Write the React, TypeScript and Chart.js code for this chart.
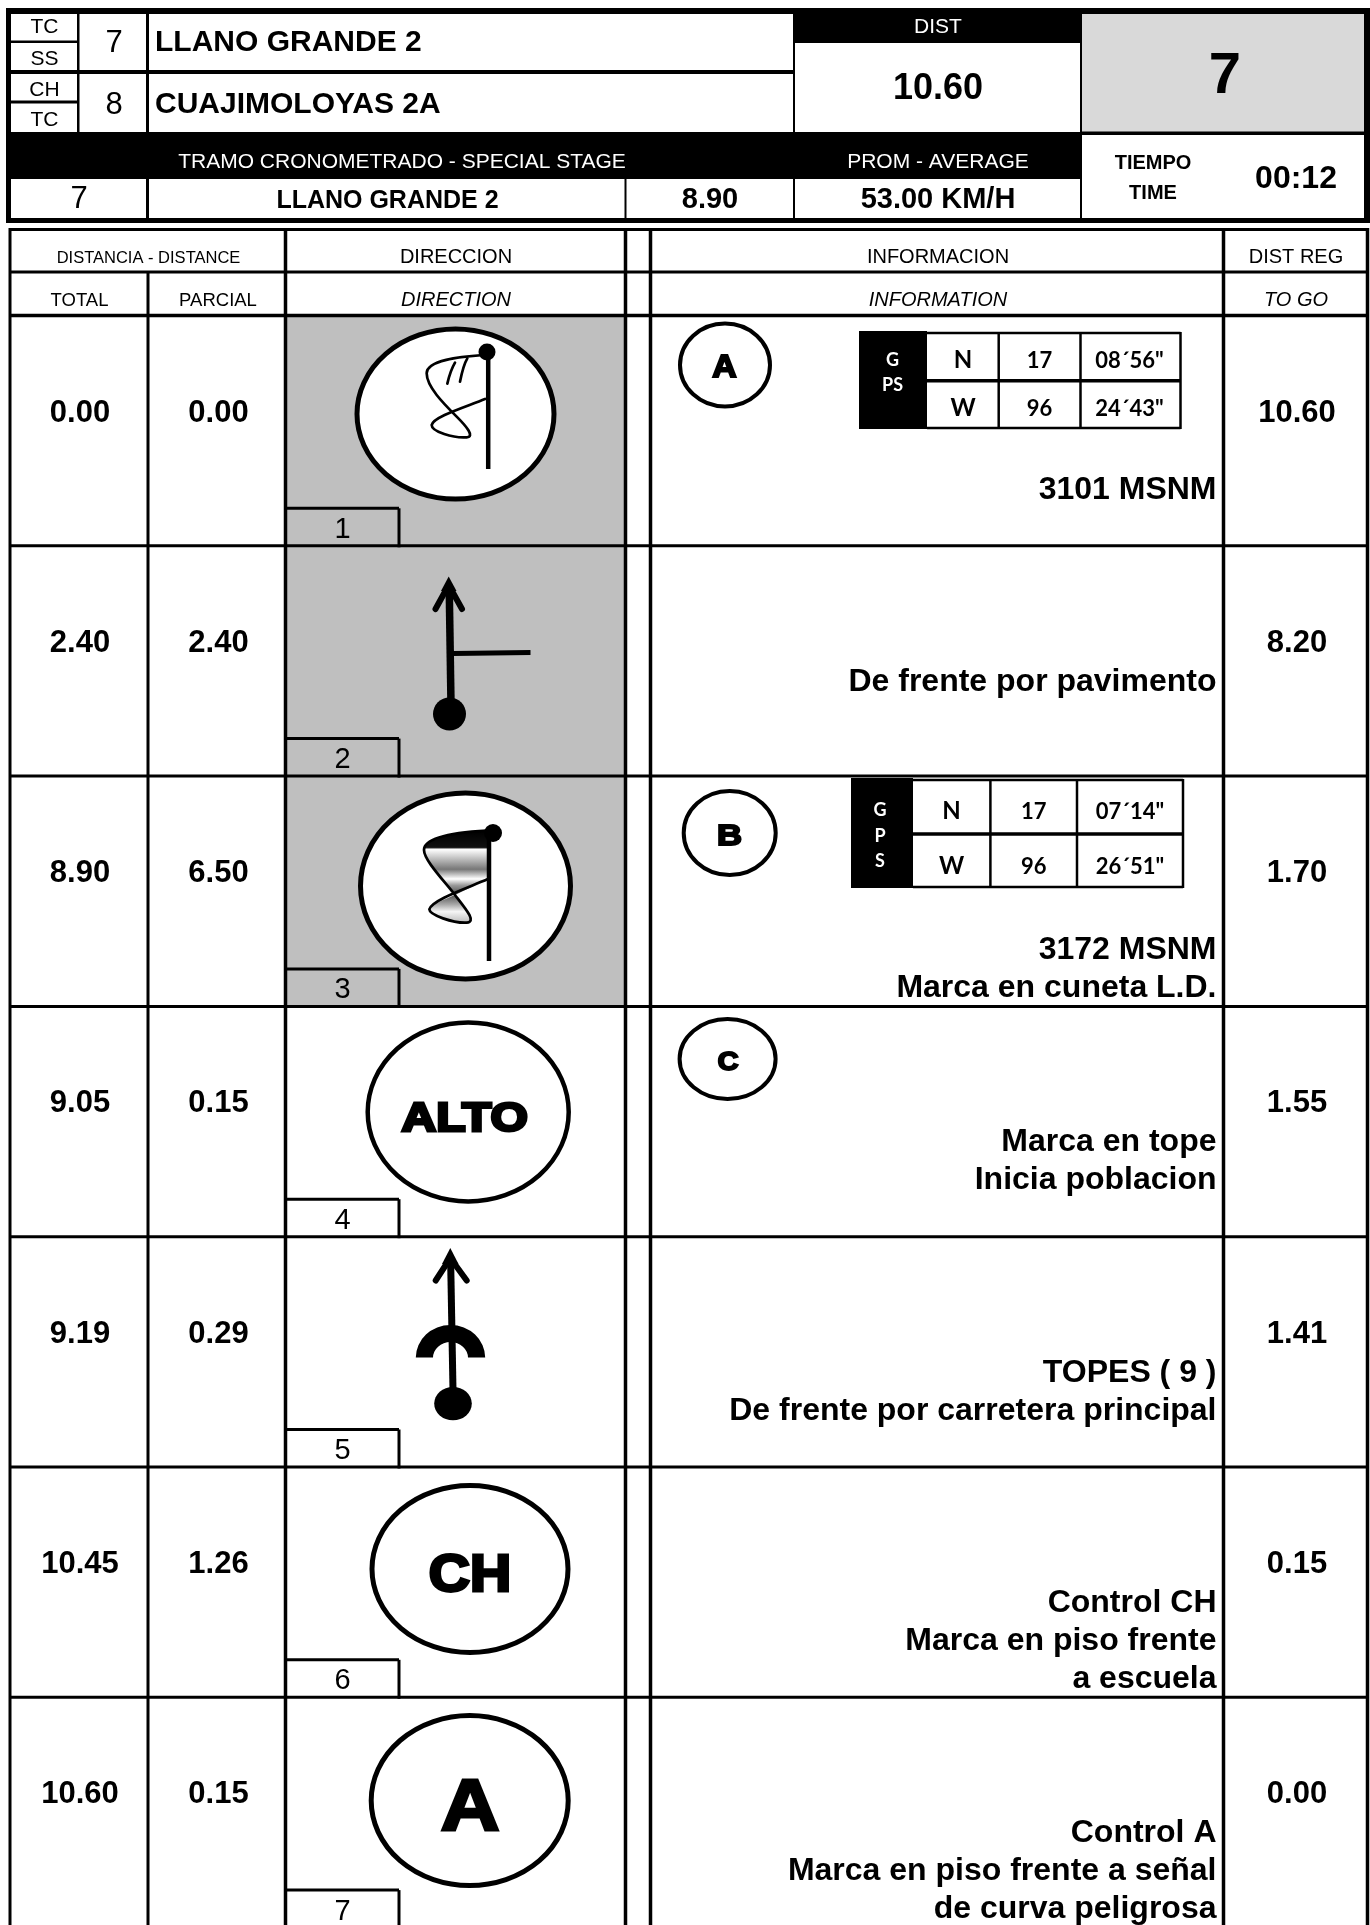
import React, { useEffect, useRef } from "react";
import { Chart, registerables } from "chart.js";

Chart.register(...registerables);

const PAGE_W = 1370;
const PAGE_H = 1925;

// ---- data ----
const stepNumbers = [1, 2, 3, 4, 5, 6, 7];
const totals = [0.0, 2.4, 8.9, 9.05, 9.19, 10.45, 10.6];
const partials = [0.0, 2.4, 6.5, 0.15, 0.29, 1.26, 0.15];
const toGo = [10.6, 8.2, 1.7, 1.55, 1.41, 0.15, 0.0];
const shadedSteps = [1, 2, 3];
const infoLines = [
  ["", "3101 MSNM", ""],
  ["De frente por pavimento", "", ""],
  ["", "3172 MSNM", "Marca en cuneta L.D."],
  ["Marca en tope", "Inicia poblacion", ""],
  ["TOPES ( 9 )", "De frente por carretera principal", ""],
  ["Control CH", "Marca en piso frente", "a escuela"],
  ["Control A", "Marca en piso frente a señal", "de curva peligrosa"],
];
const gpsA = [["N", "17", "08´56\""], ["W", "96", "24´43\""]];
const gpsB = [["N", "17", "07´14\""], ["W", "96", "26´51\""]];

// ---- layout of the table ----
const ROW_TOP = 315.5;
const ROW_H = 230.3;
const colTotal = 80;
const colPartial = 218.5;
const colToGo = 1297;
const rowBaseline = 106;
const verticals = [10, 148, 285.5, 625.5, 650.5, 1223.5, 1367.5];
const AR = "'Liberation Sans', Arial, sans-serif";

type Opt = { font: string; align?: CanvasTextAlign; color?: string };

function App() {
  const ref = useRef<HTMLCanvasElement | null>(null);
  useEffect(() => {
    if (!ref.current) return;

    const distPoints = (vals: number[], x: number) =>
      vals.map((v, i) => ({ x, y: ROW_TOP + i * ROW_H + rowBaseline, v }));

    const roadbook = {
      id: "roadbook",
      beforeDatasetsDraw(chart: any) {
        const c: CanvasRenderingContext2D = chart.ctx;
        const sx = (v: number) => chart.scales.x.getPixelForValue(v);
        const sy = (v: number) => chart.scales.y.getPixelForValue(v);

        const rect = (x0: number, y0: number, x1: number, y1: number, col: string) => {
          c.fillStyle = col;
          c.fillRect(sx(x0), sy(y0), sx(x1) - sx(x0), sy(y1) - sy(y0));
        };
        const line = (x0: number, y0: number, x1: number, y1: number, w: number, cap: CanvasLineCap = "butt") => {
          c.strokeStyle = "#000";
          c.lineWidth = w;
          c.lineCap = cap;
          c.beginPath();
          c.moveTo(sx(x0), sy(y0));
          c.lineTo(sx(x1), sy(y1));
          c.stroke();
        };
        const text = (s: string, x: number, y: number, o: Opt) => {
          c.font = o.font;
          c.textAlign = o.align || "center";
          c.textBaseline = "alphabetic";
          c.fillStyle = o.color || "#000";
          c.fillText(s, sx(x), sy(y));
        };
        const ellipse = (cx: number, cy: number, rx: number, ry: number, w: number) => {
          c.beginPath();
          c.ellipse(sx(cx), sy(cy), rx, ry, 0, 0, Math.PI * 2);
          c.fillStyle = "#fff";
          c.fill();
          c.strokeStyle = "#000";
          c.lineWidth = w;
          c.stroke();
        };
        const dot = (cx: number, cy: number, rx: number, ry: number) => {
          c.beginPath();
          c.ellipse(sx(cx), sy(cy), rx, ry, 0, 0, Math.PI * 2);
          c.fillStyle = "#000";
          c.fill();
        };
        // heavy display lettering fitted inside a box
        const heavy = (s: string, x0: number, yTop: number, x1: number, yBot: number, thick: number) => {
          c.save();
          c.font = `bold 100px ${AR}`;
          c.textAlign = "left";
          c.textBaseline = "alphabetic";
          const m = c.measureText(s);
          const inkW = m.actualBoundingBoxRight + m.actualBoundingBoxLeft;
          const inkH = m.actualBoundingBoxAscent;
          const t = thick;
          const kx = (x1 - x0 - t) / inkW;
          const ky = (yBot - yTop - t) / inkH;
          c.translate(sx(x0) + t / 2 + m.actualBoundingBoxLeft * kx, sy(yBot) - t / 2);
          c.scale(kx, ky);
          c.fillStyle = "#000";
          c.fillText(s, 0, 0);
          c.strokeStyle = "#000";
          c.lineWidth = t / Math.min(kx, ky);
          c.lineJoin = "miter";
          c.strokeText(s, 0, 0);
          c.restore();
        };
        const curve = (ox: number, oy: number, pts: number[][]) => {
          const X = (v: number) => sx(ox + v / 3);
          const Y = (v: number) => sy(oy + v / 3);
          c.moveTo(X(pts[0][0]), Y(pts[0][1]));
          pts.slice(1).forEach((p) => c.bezierCurveTo(X(p[0]), Y(p[1]), X(p[2]), Y(p[3]), X(p[4]), Y(p[5])));
        };

        // page
        rect(0, 0, PAGE_W, PAGE_H, "#fff");

        // ---------- top block ----------
        rect(6, 8, 1370, 223, "#000");
        const whiteCells = [
          [11, 14, 77, 40.5], [11, 43, 77, 70], [11, 74, 77, 100.5], [11, 103.5, 77, 132],
          [79.5, 14, 146, 70], [79.5, 74, 146, 132],
          [149, 14, 793, 70], [149, 74, 793, 132],
          [795, 43, 1080, 132],
          [1082, 135, 1364, 218],
          [11, 179, 146, 218], [149, 179, 624.5, 218], [626.5, 179, 793, 218], [795, 179, 1080, 218],
        ];
        whiteCells.forEach((r) => rect(r[0], r[1], r[2], r[3], "#fff"));
        rect(1082, 14, 1364, 131.5, "#D9D9D9");

        const f21 = `21px ${AR}`;
        text("TC", 44.5, 32.5, { font: f21 });
        text("SS", 44.5, 64.5, { font: f21 });
        text("CH", 44.5, 95.5, { font: f21 });
        text("TC", 44.5, 125.5, { font: f21 });
        text("7", 114, 52, { font: `31px ${AR}` });
        text("8", 114, 113.5, { font: `31px ${AR}` });
        text("LLANO GRANDE 2", 155, 51, { font: `bold 30px ${AR}`, align: "left" });
        text("CUAJIMOLOYAS 2A", 155, 113, { font: `bold 30px ${AR}`, align: "left" });
        text("DIST", 938, 33, { font: f21, color: "#fff" });
        text("10.60", 938, 99, { font: `bold 36px ${AR}` });
        text("7", 1225, 93, { font: `bold 58px ${AR}` });
        text("TRAMO CRONOMETRADO - SPECIAL STAGE", 402, 168, { font: f21, color: "#fff" });
        text("PROM - AVERAGE", 938, 168, { font: f21, color: "#fff" });
        text("TIEMPO", 1153, 168.5, { font: `bold 20px ${AR}` });
        text("TIME", 1153, 199, { font: `bold 20px ${AR}` });
        text("00:12", 1296, 188, { font: `bold 32px ${AR}` });
        text("7", 79, 208, { font: `31px ${AR}` });
        text("LLANO GRANDE 2", 387.5, 208, { font: `bold 25px ${AR}` });
        text("8.90", 710, 208, { font: `bold 29px ${AR}` });
        text("53.00 KM/H", 938, 208, { font: `bold 29px ${AR}` });

        // ---------- shaded direction cells ----------
        shadedSteps.forEach((n) => {
          const t = ROW_TOP + (n - 1) * ROW_H;
          rect(287, t, 624, t + ROW_H, "#BFBFBF");
        });

        // ---------- grid ----------
        line(9, 229.5, 1369, 229.5, 3);
        line(9, 272, 1369, 272, 3);
        line(9, 315.5, 1369, 315.5, 3.5);
        stepNumbers.forEach((n, i) => {
          if (i > 0) line(9, ROW_TOP + i * ROW_H, 1369, ROW_TOP + i * ROW_H, 3);
        });
        verticals.forEach((x) => {
          if (x === 148) line(x, 272, x, PAGE_H, 3);
          else line(x, 228, x, PAGE_H, x === 10 ? 3 : 3.5);
        });

        // column titles
        text("DISTANCIA - DISTANCE", 148.5, 262.5, { font: `16.5px ${AR}` });
        text("DIRECCION", 456, 262.5, { font: `20px ${AR}` });
        text("INFORMACION", 938, 262.5, { font: `20px ${AR}` });
        text("DIST REG", 1296, 262.5, { font: `20px ${AR}` });
        text("TOTAL", 79.5, 305.5, { font: `18.5px ${AR}` });
        text("PARCIAL", 218, 305.5, { font: `18.5px ${AR}` });
        text("DIRECTION", 456, 305.5, { font: `italic 20px ${AR}` });
        text("INFORMATION", 938, 305.5, { font: `italic 20px ${AR}` });
        text("TO GO", 1296, 305.5, { font: `italic 20px ${AR}` });

        // step number tabs
        stepNumbers.forEach((n, i) => {
          const bottom = ROW_TOP + (i + 1) * ROW_H;
          line(285.5, bottom - 37.5, 399, bottom - 37.5, 3);
          line(399, bottom - 37.5, 399, bottom + 1.5, 3);
          text(String(n), 342.5, bottom - 8, { font: `29px ${AR}` });
        });

        // ---------- direction symbols ----------
        // step 1: flag
        ellipse(455.5, 414, 98.5, 85, 5);
        c.beginPath();
        curve(270, 310, [[640, 135], [570, 140, 470, 150, 470, 190], [470, 230, 520, 280, 560, 320], [590, 350, 615, 380, 590, 382], [550, 385, 485, 365, 485, 345], [490, 320, 590, 290, 645, 267]]);
        c.strokeStyle = "#000";
        c.lineWidth = 2.7;
        c.lineCap = "round";
        c.stroke();
        c.beginPath();
        curve(270, 310, [[592, 145], [580, 165, 575, 190, 570, 215]]);
        curve(270, 310, [[555, 158], [545, 175, 538, 195, 532, 221]]);
        c.stroke();
        line(488.2, 352, 488.2, 469, 4.5);
        dot(487, 352, 8.5, 8.5);

        // step 2: arrow with branch
        line(449.2, 586, 451, 705, 7.5);
        line(448.7, 578, 436, 610, 0.1);
        line(435.5, 609, 448.7, 585, 6, "round");
        line(462, 609, 448.7, 585, 6, "round");
        c.beginPath();
        c.moveTo(sx(448.7), sy(576.5));
        c.lineTo(sx(441), sy(591));
        c.lineTo(sx(456.5), sy(591));
        c.closePath();
        c.fillStyle = "#000";
        c.fill();
        dot(449.5, 714, 16.5, 16.5);
        line(453, 653.5, 530.5, 652.5, 5);

        // step 3: shaded flag
        ellipse(465.5, 886, 105, 93, 5);
        const upper = new Path2D();
        const lobeX = (v: number) => sx(270 + v / 3);
        const lobeY = (v: number) => sy(770 + v / 3);
        upper.moveTo(lobeX(652), lobeY(182));
        upper.bezierCurveTo(lobeX(560), lobeY(187), lobeX(462), lobeY(200), lobeX(462), lobeY(240));
        upper.bezierCurveTo(lobeX(462), lobeY(270), lobeX(520), lobeY(330), lobeX(555), lobeY(375));
        upper.lineTo(lobeX(652), lobeY(328));
        upper.closePath();
        const g1 = c.createLinearGradient(0, lobeY(182), 0, lobeY(375));
        g1.addColorStop(0, "#000");
        g1.addColorStop(0.26, "#111");
        g1.addColorStop(0.29, "#fff");
        g1.addColorStop(0.6, "#777");
        g1.addColorStop(0.75, "#fff");
        g1.addColorStop(0.85, "#999");
        g1.addColorStop(1, "#444");
        c.fillStyle = g1;
        c.fill(upper);
        const lower = new Path2D();
        lower.moveTo(lobeX(555), lobeY(375));
        lower.bezierCurveTo(lobeX(590), lobeY(420), lobeX(620), lobeY(455), lobeX(590), lobeY(458));
        lower.bezierCurveTo(lobeX(550), lobeY(460), lobeX(478), lobeY(435), lobeX(478), lobeY(418));
        lower.bezierCurveTo(lobeX(482), lobeY(405), lobeX(520), lobeY(390), lobeX(555), lobeY(375));
        lower.closePath();
        const g2 = c.createLinearGradient(0, lobeY(375), 0, lobeY(458));
        g2.addColorStop(0, "#555");
        g2.addColorStop(0.35, "#aaa");
        g2.addColorStop(0.6, "#f5f5f5");
        g2.addColorStop(1, "#bbb");
        c.fillStyle = g2;
        c.fill(lower);
        c.beginPath();
        curve(270, 770, [[650, 182], [560, 187, 462, 200, 462, 240], [462, 270, 520, 330, 555, 375], [590, 420, 620, 455, 590, 458], [550, 460, 478, 435, 478, 418], [485, 390, 590, 355, 652, 328]]);
        c.strokeStyle = "#000";
        c.lineWidth = 2.7;
        c.lineCap = "round";
        c.stroke();
        line(489, 833, 489, 961, 4.5);
        dot(493, 833, 9, 9);

        // step 4
        ellipse(468.2, 1112, 100.5, 89.5, 4.5);
        heavy("ALTO", 401, 1100, 527.5, 1132, 3);

        // step 5: speed bump arrow
        line(450.6, 1258, 453, 1390, 7);
        line(435.7, 1280.5, 450.3, 1258, 6, "round");
        line(466.7, 1280.5, 450.3, 1258, 6, "round");
        c.beginPath();
        c.moveTo(sx(450.3), sy(1248));
        c.lineTo(sx(442), sy(1264));
        c.lineTo(sx(458.5), sy(1264));
        c.closePath();
        c.fillStyle = "#000";
        c.fill();
        c.beginPath();
        c.ellipse(sx(450.5), sy(1357.6), 34.7, 32.5, 0, Math.PI, 0);
        c.ellipse(sx(450.5), sy(1357.6), 17.5, 15.5, 0, 0, Math.PI, true);
        c.closePath();
        c.fillStyle = "#000";
        c.fill();
        dot(453, 1403.6, 18.8, 16.7);

        // step 6
        ellipse(470, 1569, 98, 83.5, 5);
        heavy("CH", 429.5, 1553, 509, 1592, 3);

        // step 7
        ellipse(469.7, 1800.6, 98.5, 85, 5);
        heavy("A", 441, 1777, 499.3, 1831, 3);

        // ---------- information column ----------
        ellipse(725, 365, 45, 41.5, 4);
        heavy("A", 712, 354, 737, 378, 2);
        ellipse(729.7, 833, 46, 42, 4);
        heavy("B", 718, 823.3, 741.5, 846, 2);
        ellipse(727.6, 1059, 48, 40, 4);
        heavy("C", 718, 1051, 739, 1071, 2);

        const gps = (
          bx0: number, by0: number, bx1: number, by1: number,
          seps: number[], midY: number, rows: string[][],
          centers: number[], ys: number[], side: string[], sideX: number, sideY: number[]
        ) => {
          rect(bx0, by0, bx1, by1, "#000");
          const right = seps[seps.length - 1];
          line(bx1, by0 + 2, right, by0 + 2, 2.5);
          line(bx1, by1 - 1, right, by1 - 1, 2.5);
          line(bx1, midY, right, midY, 3.5);
          seps.forEach((x) => line(x, by0 + 1, x, by1, 2.5));
          rows.forEach((r, ri) =>
            r.forEach((s, ci) => text(s, centers[ci], ys[ri], { font: `bold ${ci === 0 ? 24 : 22}px Lato, sans-serif` }))
          );
          side.forEach((s, i) => text(s, sideX, sideY[i], { font: "bold 18px Lato, sans-serif", color: "#fff" }));
        };
        gps(859, 331, 927, 429, [998.7, 1080.5, 1180.5], 380.7, gpsA, [963, 1039.5, 1129.5], [367.5, 415.5], ["G", "PS"], 892.5, [366, 391]);
        gps(851, 778, 913, 888, [990.4, 1077, 1183], 834, gpsB, [951.6, 1033.8, 1130], [819, 873.5], ["G", "P", "S"], 880, [816, 842, 867]);

        infoLines.forEach((lines, i) => {
          const t = ROW_TOP + i * ROW_H;
          lines.forEach((s, k) => {
            if (s) text(s, 1216.5, t + 145 + k * 38, { font: `bold 32px ${AR}`, align: "right" });
          });
        });
      },
      afterDatasetsDraw(chart: any) {
        const c: CanvasRenderingContext2D = chart.ctx;
        c.save();
        c.font = `bold 31px ${AR}`;
        c.textAlign = "center";
        c.textBaseline = "alphabetic";
        c.fillStyle = "#000";
        chart.data.datasets.forEach((ds: any, di: number) => {
          chart.getDatasetMeta(di).data.forEach((el: any, i: number) => {
            c.fillText(ds.data[i].v.toFixed(2), el.x, el.y);
          });
        });
        c.restore();
      },
    };

    const chart = new Chart(ref.current, {
      type: "scatter",
      data: {
        datasets: [
          { label: "TOTAL", data: distPoints(totals, colTotal), pointRadius: 0 },
          { label: "PARCIAL", data: distPoints(partials, colPartial), pointRadius: 0 },
          { label: "TO GO", data: distPoints(toGo, colToGo), pointRadius: 0 },
        ] as any,
      },
      options: {
        animation: false,
        responsive: false,
        layout: { padding: 0 },
        plugins: { legend: { display: false }, tooltip: { enabled: false }, title: { display: false } },
        scales: {
          x: { type: "linear", display: false, min: 0, max: PAGE_W },
          y: { type: "linear", display: false, min: 0, max: PAGE_H, reverse: true },
        },
      },
      plugins: [roadbook],
    } as any);
    return () => chart.destroy();
  }, []);

  return (
    <canvas
      ref={ref}
      width={PAGE_W}
      height={PAGE_H}
      style={{ position: "absolute", left: 0, top: 0, width: PAGE_W, height: PAGE_H, display: "block" }}
    />
  );
}

export default App;
